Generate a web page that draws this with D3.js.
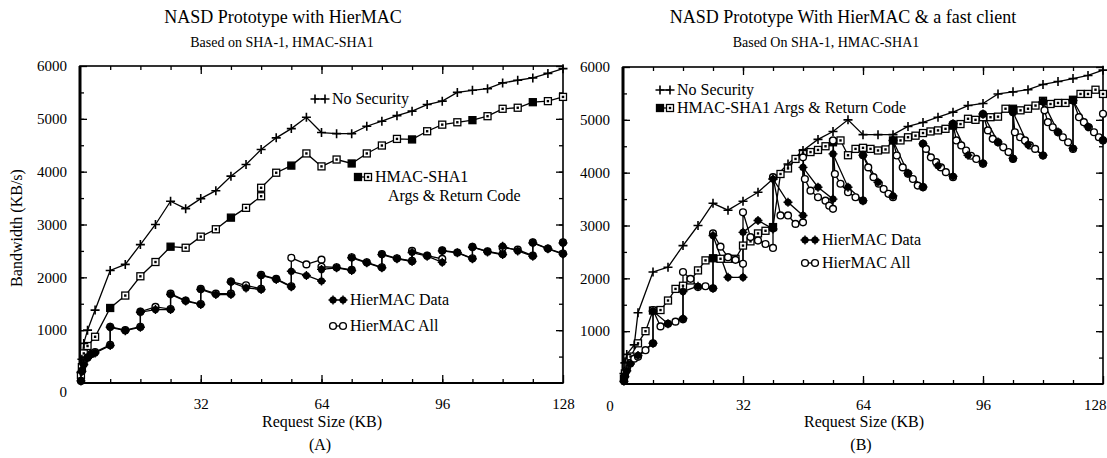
<!DOCTYPE html>
<html>
<head>
<meta charset="utf-8">
<script src="https://cdn.jsdelivr.net/npm/d3@7"></script>
<style>
    body { margin: 0; background: #fff; }
    text { font-family: "Liberation Serif", "Times New Roman", serif; fill: #000; }
</style>
</head>
<body>
<span></span>
<script>
// tick labels
let xTickLabels = [32, 64, 96, 128];
let yTickLabels = [1000, 2000, 3000, 4000, 5000, 6000];

// panel A: [request size KB, bandwidth KB/s]
let noSecA = [[0.25,200],[0.5,450],[1,750],[2,1000],[4,1380],[8,2130],[12,2245],[16,2620],[20,3000],[24,3440],[28,3300],[32,3490],[36,3640],[40,3915],[44,4135],[48,4420],[52,4640],[56,4815],[60,5030],[64,4740],[68,4720],[72,4720],[76,4860],[80,4955],[84,5060],[88,5145],[92,5270],[96,5335],[100,5500],[104,5540],[108,5570],[112,5680],[116,5730],[120,5775],[124,5860],[128,5950]];
let hmacA = [[0.25,150],[0.5,300],[1,560],[2,700],[4,875],[8,1420],[12,1655],[16,2020],[20,2290],[24,2580],[28,2560],[32,2770],[36,2910],[40,3130],[44,3315],[48,3535],[48,3695],[52,3980],[56,4115],[60,4345],[64,4100],[68,4230],[72,4155],[76,4345],[80,4495],[84,4620],[88,4610],[92,4765],[96,4890],[100,4935],[104,4975],[108,5050],[112,5190],[116,5210],[120,5315],[124,5335],[128,5415]];
let dataA = [[0.25,40],[0.5,220],[1,350],[2,475],[3,540],[4,570],[8,710],[8,1055],[12,990],[16,1055],[16,1340],[20,1390],[24,1390],[24,1675],[28,1550],[32,1485],[32,1770],[36,1675],[40,1675],[40,1910],[44,1800],[48,1770],[48,2035],[52,1960],[56,1820],[56,2115],[60,2035],[64,1930],[64,2150],[68,2180],[72,2130],[72,2370],[76,2275],[80,2180],[80,2430],[84,2350],[88,2300],[88,2470],[92,2400],[96,2285],[96,2500],[100,2465],[104,2350],[104,2570],[108,2480],[112,2430],[112,2590],[116,2500],[120,2400],[120,2650],[124,2540],[128,2440],[128,2650]];
let allA = [[0.25,40],[0.5,230],[1,360],[2,485],[3,550],[4,585],[8,720],[8,1065],[12,1000],[16,1065],[16,1350],[20,1440],[24,1400],[24,1690],[28,1560],[32,1495],[32,1780],[36,1690],[40,1690],[40,1920],[44,1850],[48,1780],[48,2045],[52,1970],[56,1830],[56,2370],[60,2245],[64,2335],[64,2200],[68,2190],[72,2140],[72,2380],[76,2285],[80,2190],[80,2440],[84,2360],[88,2310],[88,2500],[92,2410],[96,2350],[96,2510],[100,2470],[104,2360],[104,2575],[108,2490],[112,2440],[112,2560],[116,2525],[120,2410],[120,2660],[124,2545],[128,2450],[128,2660]];

// panel B
let noSecB = [[0.25,200],[0.5,400],[1,560],[3,740],[4,1350],[8,2120],[12,2210],[16,2620],[20,3000],[24,3420],[28,3290],[32,3460],[36,3630],[40,3880],[44,4165],[48,4420],[52,4630],[56,4780],[60,5000],[64,4720],[68,4720],[72,4720],[76,4875],[80,4950],[84,5050],[88,5145],[92,5270],[96,5310],[100,5490],[104,5530],[108,5570],[112,5670],[116,5725],[120,5780],[124,5840],[128,5940]];
let hmacB = [[0.25,100],[0.5,200],[1,350],[2,520],[4,770],[6,1000],[8,1390],[10,1400],[12,1580],[14,1800],[16,1860],[18,1960],[20,2150],[22,2340],[24,2380],[26,2370],[28,2370],[30,2370],[32,2620],[34,2700],[36,2850],[38,2900],[40,2970],[42,3975],[44,4080],[46,4260],[48,4370],[50,4390],[52,4430],[54,4500],[56,4575],[58,4610],[60,4330],[62,4450],[64,4470],[66,4450],[68,4420],[70,4440],[72,4610],[74,4610],[76,4670],[78,4700],[80,4750],[82,4780],[84,4800],[86,4830],[88,4890],[90,4920],[92,5020],[94,5000],[96,5050],[98,5050],[100,5060],[102,5210],[104,5210],[106,5180],[108,5210],[110,5270],[112,5360],[114,5300],[116,5320],[118,5320],[120,5380],[122,5490],[124,5490],[126,5570],[128,5490]];
let dataB = [[0.25,50],[0.5,140],[1,250],[2,380],[4,540],[8,770],[8,1380],[12,1140],[16,1240],[16,1750],[20,1850],[24,1810],[24,2810],[28,2020],[32,2020],[32,2870],[36,3095],[40,2935],[40,3880],[44,3440],[48,3190],[48,4100],[52,3725],[56,3500],[56,4355],[60,3725],[64,3470],[64,4330],[68,3820],[72,3560],[72,4610],[76,3990],[80,3730],[80,4545],[84,4130],[88,3930],[88,4925],[92,4330],[96,4180],[96,5110],[100,4580],[104,4270],[104,5145],[108,4530],[112,4330],[112,5345],[116,4770],[120,4460],[120,5365],[124,4870],[128,4620]];
let allB = [[0.25,60],[0.5,150],[1,260],[2,400],[3,480],[4,515],[6,640],[8,770],
    [8,1400],[10,1090],[12,1140],[14,1180],[16,1225],
    [16,2120],[18,1990],[20,1835],[22,1850],[24,1810],
    [24,2850],[26,2600],[28,2400],[30,2350],[32,2275],
    [32,3250],[34,2780],[36,2715],[38,2650],[40,2575],
    [40,3915],[42,3190],[44,3190],[46,3030],[48,3060],
    [48,4290],[48.5,3880],[50,3660],[52,3535],[54,3470],[55,3375],[56,3315],
    [56,4610],[56.5,3975],[58,3790],[60,3630],[62,3535],[64,3470],
    [64,4330],[65.4,4100],[66.8,3915],[68.2,3790],[69.5,3690],[70.8,3600],[72,3535],
    [72,4610],[73,4325],[74.6,4100],[76,3980],[77.3,3880],[78.6,3755],[80,3725],
    [80,4545],[80.8,4450],[82.1,4290],[83.5,4200],[84.8,4100],[86.1,4010],[88,3915],
    [88,4925],[88.9,4610],[90.2,4515],[91.5,4420],[92.8,4320],[94.2,4260],[96,4170],
    [96,5110],[97.3,4800],[98.6,4640],[100,4575],[101.4,4480],[102.8,4390],[104,4260],
    [104,5145],[104.5,4765],[105.9,4670],[107.2,4610],[108.5,4515],[109.9,4450],[112,4325],
    [112,5345],[112.4,5180],[113.3,4955],[114.6,4860],[116,4765],[117.3,4670],[118.7,4575],[120,4450],
    [120,5365],[121.6,5050],[122.9,4955],[124.2,4860],[125.6,4765],[126.9,4670],[128,4610],[128,5115]];

let width = 1107;
let height = 458;
let svg = d3.select("span")
    .append("svg")
    .attr("width", width)
    .attr("height", height);

function drawAxes(x, y) {
    let [x0, x1] = x.range();
    let [y0, y1] = y.range();
    let minorX = d3.range(8, 128, 8);
    let minorY = d3.range(500, 6000, 500);
    let noDomain = g => g.select(".domain").remove();

    svg.append("g").attr("transform", `translate(0,${y0})`)
        .call(d3.axisBottom(x).tickValues(minorX).tickSize(-4).tickFormat("")).call(noDomain);
    svg.append("g").attr("transform", `translate(0,${y1})`)
        .call(d3.axisTop(x).tickValues(minorX).tickSize(-4).tickFormat("")).call(noDomain);
    let xLab = svg.append("g").attr("transform", `translate(0,${y0})`)
        .call(d3.axisBottom(x).tickValues(xTickLabels).tickSize(-8).tickPadding(15).tickFormat(d3.format("d")))
        .call(noDomain);
    xLab.selectAll("text").style("font-size", "15px");
    // last label sits against the corner, keep it inside the page
    xLab.selectAll("text").filter(d => d === 128)
        .attr("text-anchor", x1 > 1090 ? "end" : "middle")
        .attr("dx", x1 > 1090 ? 3 : 0);
    svg.append("g").attr("transform", `translate(0,${y1})`)
        .call(d3.axisTop(x).tickValues([32, 64, 96]).tickSize(-8).tickFormat("")).call(noDomain);

    svg.append("g").attr("transform", `translate(${x0},0)`)
        .call(d3.axisLeft(y).tickValues(minorY).tickSize(-4).tickFormat("")).call(noDomain);
    svg.append("g").attr("transform", `translate(${x1},0)`)
        .call(d3.axisRight(y).tickValues(minorY).tickSize(-4).tickFormat("")).call(noDomain);
    svg.append("g").attr("transform", `translate(${x0},0)`)
        .call(d3.axisLeft(y).tickValues(yTickLabels).tickSize(-7).tickPadding(13).tickFormat(d3.format("d")))
        .call(noDomain)
        .selectAll("text").style("font-size", "15px");
    svg.append("g").attr("transform", `translate(${x1},0)`)
        .call(d3.axisRight(y).tickValues(yTickLabels).tickSize(-7).tickFormat("")).call(noDomain);

    svg.selectAll(".tick line").style("stroke", "black").style("stroke-width", 1.3);

    // frame
    svg.append("rect")
        .attr("x", x0).attr("y", y1)
        .attr("width", x1 - x0).attr("height", y0 - y1)
        .style("fill", "none").style("stroke", "black").style("stroke-width", 1.6);
    svg.append("line").attr("x1", x0).attr("x2", x0).attr("y1", y1).attr("y2", y0 + 1)
        .style("stroke", "black").style("stroke-width", 3);
    svg.append("line").attr("x1", x0).attr("x2", x1).attr("y1", y0).attr("y2", y0)
        .style("stroke", "black").style("stroke-width", 2.2);
}

function plusMark(g, cx, cy) {
    g.append("path")
        .attr("d", `M${cx - 4.5},${cy}h9M${cx},${cy - 4.5}v9`)
        .style("stroke", "black").style("stroke-width", 1.6).style("fill", "none");
}

function squareMark(g, cx, cy, filled) {
    g.append("rect").attr("x", cx - 3.5).attr("y", cy - 3.5).attr("width", 7).attr("height", 7)
        .style("fill", filled ? "black" : "white").style("stroke", "black").style("stroke-width", 1.3);
    g.append("rect").attr("x", cx - 1.2).attr("y", cy - 1.2).attr("width", 2.4).attr("height", 2.4)
        .style("fill", "black");
}

function dotMark(g, cx, cy) {
    g.append("circle").attr("cx", cx).attr("cy", cy).attr("r", 3.6).style("fill", "black");
    g.append("path")
        .attr("d", `M${cx - 4.5},${cy}h9M${cx},${cy - 4.5}v9`)
        .style("stroke", "black").style("stroke-width", 1.4);
}

function ringMark(g, cx, cy) {
    g.append("circle").attr("cx", cx).attr("cy", cy).attr("r", 3.4)
        .style("fill", "white").style("stroke", "black").style("stroke-width", 1.4);
}

function drawSeries(x, y, series, marker) {
    let line = d3.line()
        .x(d => x(d[0]))
        .y(d => y(d[1]));
    svg.append("path")
        .attr("d", line(series))
        .style("fill", "none").style("stroke", "black").style("stroke-width", 1.3);
    return function () {
        let g = svg.append("g");
        series.forEach(d => marker(g, x(d[0]), y(d[1]), d[0] % 16 === 8));
    };
}

function drawPanel(x, y, noSec, hmac, data, all) {
    drawAxes(x, y);
    let m1 = drawSeries(x, y, hmac, squareMark);
    let m2 = drawSeries(x, y, all, ringMark);
    let m3 = drawSeries(x, y, data, dotMark);
    let m4 = drawSeries(x, y, noSec, plusMark);
    m1(); m2(); m3(); m4();
}

function legendEntry(marker, x, y, label, filled) {
    let g = svg.append("g");
    g.append("line").attr("x1", x).attr("x2", x + 10).attr("y1", y).attr("y2", y)
        .style("stroke", "black").style("stroke-width", 1.3);
    marker(g, x, y, filled);
    marker(g, x + 10, y, false);
    g.append("text").attr("x", x + 17).attr("y", y + 5).style("font-size", "16px").text(label);
}

function text(x, y, str, size, anchor) {
    return svg.append("text")
        .attr("x", x).attr("y", y)
        .attr("text-anchor", anchor || "middle")
        .style("font-size", size + "px")
        .text(str);
}

// panel A
let xA = d3.scaleLinear([0, 128], [80, 563]);
let yA = d3.scaleLinear([0, 6000], [383, 66]);
drawPanel(xA, yA, noSecA, hmacA, dataA, allA);

// panel B
let xB = d3.scaleLinear([0, 128], [623, 1103]);
let yB = d3.scaleLinear([0, 6000], [384, 67]);
drawPanel(xB, yB, noSecB, hmacB, dataB, allB);

// titles
text(283, 23, "NASD Prototype with HierMAC", 18);
text(282, 47, "Based on SHA-1, HMAC-SHA1", 14);
text(843, 23, "NASD Prototype With HierMAC & a fast client", 18);
text(826, 47, "Based On SHA-1, HMAC-SHA1", 14);

// zero labels
text(xA(0) - 13, yA(0) + 14, "0", 15, "end");
text(xB(0) - 13, yB(0) + 27, "0", 15);

// axis titles
text(322, 427, "Request Size (KB)", 16);
text(320, 450, "(A)", 16);
text(864, 427, "Request Size (KB)", 16);
text(861, 450, "(B)", 16);
svg.append("text")
    .attr("transform", "translate(22,228) rotate(-90)")
    .attr("text-anchor", "middle")
    .style("font-size", "16px")
    .text("Bandwidth (KB/s)");

// legends
legendEntry(plusMark, 315, 99, "No Security");
legendEntry(squareMark, 358, 177, "HMAC-SHA1", true);
text(388, 201, "Args & Return Code", 16, "start");
legendEntry(dotMark, 333, 300, "HierMAC Data");
legendEntry(ringMark, 333, 326, "HierMAC All");

legendEntry(plusMark, 660, 90, "No Security");
legendEntry(squareMark, 660, 108, "HMAC-SHA1 Args & Return Code", true);
legendEntry(dotMark, 805, 240, "HierMAC Data");
legendEntry(ringMark, 805, 263, "HierMAC All");
</script>
</body>
</html>
